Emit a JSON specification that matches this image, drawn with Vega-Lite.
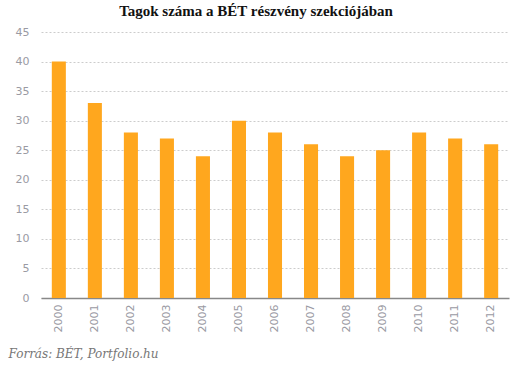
{
  "$schema": "https://vega.github.io/schema/vega-lite/v6.json",
  "autosize": "none",
  "width": 468,
  "height": 266,
  "padding": {"left": 41, "top": 32, "right": 22, "bottom": 67},
  "background": "white",
  "title": {
    "text": "Tagok száma a BÉT részvény szekciójában",
    "font": "Liberation Serif",
    "fontSize": 15,
    "fontWeight": "bold",
    "color": "#111111",
    "anchor": "middle",
    "dx": -19,
    "offset": 7
  },
  "data": {
    "values": [
      {"year": "2000", "value": 40},
      {"year": "2001", "value": 33},
      {"year": "2002", "value": 28},
      {"year": "2003", "value": 27},
      {"year": "2004", "value": 24},
      {"year": "2005", "value": 30},
      {"year": "2006", "value": 28},
      {"year": "2007", "value": 26},
      {"year": "2008", "value": 24},
      {"year": "2009", "value": 25},
      {"year": "2010", "value": 28},
      {"year": "2011", "value": 27},
      {"year": "2012", "value": 26}
    ]
  },
  "mark": {"type": "bar", "color": "#FFA71E"},
  "encoding": {
    "x": {
      "field": "year",
      "type": "ordinal",
      "scale": {"paddingInner": 0.61, "paddingOuter": 0.3},
      "axis": {
        "title": "Forrás: BÉT, Portfolio.hu",
        "titleFont": "DejaVu Serif",
        "titleFontStyle": "italic",
        "titleFontWeight": "normal",
        "titleFontSize": 12,
        "titleColor": "#777777",
        "titleAnchor": "start",
        "titleAlign": "left",
        "titleBaseline": "alphabetic",
        "titleX": -33,
        "titleY": 59,
        "labelAngle": 270,
        "labelAlign": "right",
        "labelBaseline": "middle",
        "labelPadding": 6,
        "labelFont": "DejaVu Sans",
        "labelFontSize": 11,
        "labelColor": "#9a9aa3",
        "ticks": false,
        "domainColor": "#888888",
        "domainWidth": 1.5
      }
    },
    "y": {
      "field": "value",
      "type": "quantitative",
      "scale": {"domain": [0, 45]},
      "axis": {
        "title": null,
        "values": [0, 5, 10, 15, 20, 25, 30, 35, 40, 45],
        "domain": false,
        "ticks": false,
        "labelPadding": 12,
        "labelFont": "DejaVu Sans",
        "labelFontSize": 11,
        "labelColor": "#9a9aa3",
        "gridColor": "#cccccc",
        "gridDash": [2, 2],
        "gridWidth": 1
      }
    }
  },
  "config": {"view": {"stroke": null}}
}
